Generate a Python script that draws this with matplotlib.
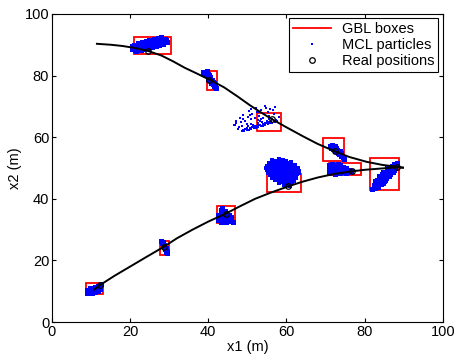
import matplotlib
matplotlib.use("Agg")
import matplotlib.pyplot as plt
import numpy as np
from matplotlib.patches import Rectangle
from matplotlib.lines import Line2D

plt.rcParams['font.family'] = ['Liberation Sans', 'DejaVu Sans']
plt.rcParams['font.size'] = 9.5

# true trajectories
upper_x = [11.5, 15, 18, 21, 24.5, 28, 31, 34, 37, 40.4, 44, 47.5, 50.6, 53.5, 56.2, 60, 64.2, 68, 72.4, 76, 80.5, 84.5, 88.2, 89.8]
upper_y = [90.3, 90.0, 89.6, 89.0, 88.0, 86.5, 84.6, 82.5, 80.7, 78.6, 76.2, 73.2, 70.4, 68.0, 65.9, 63.2, 60.3, 57.8, 55.4, 53.6, 52.0, 51.0, 50.4, 50.1]
lower_x = [10.8, 12.3, 16, 20, 24, 28.6, 32, 36, 40, 44.5, 48, 52, 56, 60.4, 64, 68, 72, 76.7, 80, 84, 88.2, 89.8]
lower_y = [10.5, 12.0, 15.0, 18.0, 21.0, 24.4, 27.2, 30.0, 32.6, 35.2, 37.5, 40.0, 42.0, 44.0, 45.5, 46.9, 48.0, 48.9, 49.4, 49.8, 50.2, 50.1]

# real positions (circles)
real_x = [24.5, 40.3, 56.4, 72.4, 88.2, 12.3, 28.6, 44.5, 60.5, 76.7]
real_y = [88.0, 78.6, 66.0, 55.4, 50.4, 12.0, 24.4, 35.2, 44.0, 48.9]

# GBL boxes: x0, x1, y0, y1
box_x0 = [21.0, 39.6, 52.4, 69.3, 81.3, 8.7, 27.6, 42.2, 55.1, 70.8]
box_x1 = [30.4, 42.2, 58.6, 74.7, 88.7, 13.0, 29.9, 46.8, 63.7, 79.0]
box_y0 = [87.0, 75.2, 61.9, 52.1, 42.7, 9.1, 21.8, 32.2, 42.3, 47.6]
box_y1 = [92.5, 81.4, 67.8, 59.6, 53.1, 12.7, 26.4, 37.5, 48.2, 51.5]

# MCL particle clouds
cloud1 = [(20.6, 88.7), (21.2, 88.3), (21.4, 89.3), (22.0, 88.6), (22.1, 89.8), (22.6, 89.2), (22.9, 88.4),
          (23.1, 90.3), (23.4, 89.6), (23.8, 88.9), (24.0, 90.7), (24.3, 90.0), (24.6, 89.2), (24.9, 91.0),
          (25.2, 90.4), (25.5, 89.6), (25.8, 91.3), (26.1, 90.7), (26.4, 89.9), (26.7, 91.5), (27.0, 90.9),
          (27.3, 90.2), (27.6, 91.6), (27.9, 91.0), (28.2, 90.5), (28.5, 91.7), (28.8, 91.2), (29.2, 91.5),
          (23.5, 88.7), (25.0, 89.3), (26.5, 90.4), (21.8, 89.0), (24.6, 90.6), (27.4, 91.3), (22.5, 90.0),
          (28.0, 91.9), (20.9, 89.2), (23.0, 89.0), (25.9, 90.0), (29.0, 91.9), (23.6, 91.0), (22.4, 90.5),
          (26.0, 92.0), (27.2, 92.1), (24.8, 91.6),
          (22.0, 90.4), (23.0, 90.8), (24.0, 91.1), (25.0, 91.4), (26.0, 91.7), (27.0, 92.0), (28.0, 92.4),
          (21.5, 88.0), (22.5, 88.3), (23.5, 88.6), (24.5, 88.9), (25.5, 89.2), (26.5, 89.6), (27.5, 89.9),
          (28.5, 90.2), (29.4, 91.0), (20.4, 89.6), (21.0, 90.0)]
cloud2 = [(38.7, 81.3), (39.0, 81.0), (39.3, 81.2), (39.2, 80.4), (39.6, 80.1), (39.9, 80.5), (39.8, 79.5),
          (40.2, 79.2), (40.5, 79.6), (40.3, 78.6), (40.7, 78.3), (41.0, 78.6), (40.8, 77.6), (41.2, 77.3),
          (41.5, 77.6), (41.4, 76.6), (41.8, 76.2), (42.0, 75.8), (39.5, 80.8), (40.0, 78.9), (41.1, 77.9),
          (41.6, 76.9), (38.9, 80.6), (39.6, 81.4), (40.1, 80.2)]
cloud3 = [(48.5, 61.9), (49.2, 62.0), (49.8, 62.3), (50.4, 62.4), (51.0, 62.6), (51.6, 62.9), (52.2, 63.0),
          (52.8, 63.3), (53.4, 63.5), (54.0, 63.7), (54.6, 64.0), (55.2, 64.2), (55.8, 64.5), (56.4, 64.7),
          (57.0, 64.9), (57.6, 65.1), (49.5, 62.8), (50.6, 63.1), (51.7, 63.5), (52.8, 63.9), (53.9, 64.3),
          (55.0, 64.7), (56.1, 65.2), (57.2, 65.6), (50.2, 63.6), (51.4, 64.0), (52.6, 64.5), (53.8, 64.9),
          (55.0, 65.3), (56.2, 65.8), (49.0, 62.4), (50.0, 62.9), (51.1, 63.3), (52.2, 63.7), (53.3, 64.1),
          (54.4, 64.5), (55.5, 64.9), (56.7, 65.3), (51.0, 64.4), (53.2, 65.2), (55.6, 65.9),
          (46.5, 63.8), (47.2, 64.5), (47.8, 63.2), (47.0, 65.3), (48.4, 64.8), (48.9, 66.0), (49.5, 65.1),
          (50.1, 66.7), (49.0, 67.2), (50.8, 65.8), (51.3, 67.5), (51.9, 66.3), (52.4, 68.1), (50.3, 68.5),
          (53.0, 67.0), (53.6, 68.8), (52.2, 69.4), (54.2, 67.4), (54.8, 69.6), (55.3, 68.3), (53.4, 66.0),
          (55.9, 69.2), (56.5, 68.7), (57.0, 69.9), (55.5, 66.9), (54.6, 70.1), (56.8, 67.6), (51.0, 69.0),
          (48.0, 66.2), (49.8, 64.2), (52.7, 65.7), (58.2, 66.4), (47.5, 62.6), (48.6, 63.5), (46.9, 64.0),
          (50.7, 67.3), (52.9, 68.3), (54.0, 66.2)]
cloud4 = [(71.2, 57.2), (71.6, 57.5), (71.5, 56.6), (72.0, 56.9), (72.3, 57.2), (71.9, 56.1), (72.4, 56.4),
          (72.8, 56.6), (72.4, 55.6), (72.9, 55.8), (73.2, 55.3), (73.6, 55.4), (73.5, 54.6), (73.9, 54.8),
          (74.0, 54.0), (74.4, 53.6), (74.6, 53.0), (72.6, 56.0), (73.3, 54.9)]
cloud5 = [(71.0, 48.3), (71.0, 49.2), (71.0, 50.1), (71.0, 51.0), (71.7, 48.6), (71.7, 49.5), (71.7, 50.4),
          (71.7, 51.3), (72.4, 48.2), (72.4, 49.1), (72.4, 50.0), (72.4, 50.9), (73.1, 48.6), (73.1, 49.5),
          (73.1, 50.4), (73.1, 51.2), (73.8, 48.3), (73.8, 49.2), (73.8, 50.1), (73.8, 50.9), (74.5, 48.6),
          (74.5, 49.4), (74.5, 50.3), (75.2, 48.5), (75.2, 49.3), (75.2, 50.1), (75.9, 48.7), (75.9, 49.5),
          (76.5, 49.0)]
cloud6 = [(81.9, 43.2), (82.3, 43.9), (82.7, 43.6), (82.5, 44.6), (83.0, 44.3), (83.3, 43.9), (82.8, 45.3),
          (83.3, 45.0), (83.8, 44.7), (83.2, 46.0), (83.7, 45.7), (84.2, 45.4), (84.6, 45.1), (83.6, 46.7),
          (84.1, 46.4), (84.6, 46.1), (85.0, 45.9), (84.0, 47.4), (84.5, 47.2), (85.0, 46.9), (85.5, 46.6),
          (84.5, 48.1), (85.0, 47.9), (85.5, 47.6), (86.0, 47.3), (85.0, 48.8), (85.5, 48.6), (86.0, 48.3),
          (86.5, 48.0), (85.6, 49.5), (86.1, 49.2), (86.6, 49.0), (87.0, 48.7), (86.2, 50.1), (86.7, 49.9),
          (87.2, 49.6), (87.6, 49.4), (86.9, 50.7), (87.4, 50.4), (87.8, 50.1), (87.5, 51.2), (88.0, 50.9),
          (88.2, 51.6), (84.8, 46.8), (85.8, 48.0), (86.8, 49.4),
          (82.7, 45.9), (83.7, 47.3), (84.7, 48.6), (85.7, 50.0), (84.3, 44.7), (85.3, 46.1), (86.3, 47.4),
          (87.3, 48.8)]
cloud7 = [(56.4, 52.6), (57.4, 52.4), (58.0, 52.8), (59.0, 52.5), (59.8, 52.2),
          (55.5, 51.6), (56.5, 51.9), (57.1, 51.5), (58.1, 51.8), (58.7, 51.4), (59.7, 51.7), (60.3, 51.5), (61.1, 51.9),
          (55.0, 50.8), (56.0, 51.1), (56.6, 50.7), (57.6, 51.0), (58.2, 50.7), (59.2, 51.1), (59.8, 50.8),
          (60.8, 51.0), (61.4, 50.6), (62.3, 50.9),
          (54.8, 50.0), (55.8, 50.3), (56.4, 49.9), (57.4, 50.2), (58.2, 49.8), (58.8, 50.3), (59.8, 50.0),
          (60.4, 50.3), (61.4, 49.9), (62.0, 50.2), (62.9, 49.9),
          (55.1, 49.2), (55.7, 49.5), (56.7, 49.1), (57.3, 49.4), (58.3, 49.2), (58.9, 49.5), (59.9, 49.1),
          (60.5, 49.4), (61.5, 49.2), (62.1, 49.5), (63.1, 49.1),
          (55.3, 48.4), (55.9, 48.7), (56.9, 48.3), (57.5, 48.6), (58.5, 48.4), (59.1, 48.7), (60.1, 48.3),
          (60.7, 48.6), (61.7, 48.4), (62.3, 48.7), (63.3, 48.3),
          (55.7, 47.6), (56.3, 47.9), (57.3, 47.5), (57.9, 47.8), (58.9, 47.6), (59.5, 47.9), (60.5, 47.5),
          (61.1, 47.8), (62.1, 47.6), (62.7, 47.9),
          (56.3, 46.8), (56.9, 47.1), (57.9, 46.7), (58.5, 47.0), (59.5, 46.8), (60.1, 47.1), (61.1, 46.7),
          (61.7, 47.0), (62.5, 46.8),
          (57.1, 46.0), (57.7, 46.3), (58.7, 45.9), (59.3, 46.2), (60.3, 46.0), (60.9, 46.3), (61.9, 45.9),
          (58.1, 45.2), (58.7, 45.5), (59.7, 45.1), (60.3, 45.4), (61.3, 45.2),
          (59.3, 44.4), (59.9, 44.7), (60.9, 44.3)]
cloud8 = [(42.5, 33.0), (42.5, 33.9), (42.5, 34.8), (43.2, 32.6), (43.2, 33.5), (43.2, 34.4), (43.2, 35.3),
          (43.2, 36.3), (43.9, 32.8), (43.9, 33.7), (43.9, 34.6), (43.9, 35.5), (43.6, 37.0), (44.6, 32.6),
          (44.6, 33.5), (44.6, 34.4), (44.6, 35.3), (45.3, 32.8), (45.3, 33.7), (45.3, 34.6), (45.9, 33.1),
          (45.9, 34.0), (46.2, 32.6), (43.5, 36.4), (44.2, 36.0)]
cloud9 = [(27.9, 26.3), (28.1, 25.8), (28.3, 25.3), (28.5, 24.8), (28.7, 24.3), (28.9, 23.8), (29.1, 23.3),
          (29.3, 22.8), (29.5, 22.3), (28.3, 25.9), (28.7, 24.9), (29.1, 23.9), (29.4, 23.0)]
cloud10 = [(8.9, 9.4), (8.9, 10.3), (9.6, 9.3), (9.6, 10.2), (9.6, 11.0), (10.3, 9.4), (10.3, 10.3),
           (10.3, 11.2), (11.0, 9.6), (11.0, 10.5), (11.0, 11.4), (11.7, 10.0), (11.7, 10.9), (11.7, 11.8),
           (12.4, 10.6), (12.4, 11.5), (12.6, 12.2)]

clouds = [cloud1, cloud2, cloud3, cloud4, cloud5, cloud6, cloud7, cloud8, cloud9, cloud10]
cloud_msize = [3.6, 3.6, 1.9, 3.6, 3.6, 3.6, 2.3, 3.6, 3.6, 3.6]

fig = plt.figure(figsize=(4.56, 3.57), dpi=100)
ax = fig.add_axes([0.114, 0.098, 0.857, 0.863])

for x0, x1, y0, y1 in zip(box_x0, box_x1, box_y0, box_y1):
    ax.add_patch(Rectangle((x0, y0), x1 - x0, y1 - y0, fill=False,
                           edgecolor='red', linewidth=1.3, zorder=2))

for c, ms in zip(clouds, cloud_msize):
    pts = np.array(c)
    ax.plot(pts[:, 0], pts[:, 1], linestyle='none', marker='s',
            markersize=ms, color='blue', markeredgewidth=0, zorder=3)

ax.plot(upper_x, upper_y, color='black', linewidth=1.4, zorder=4)
ax.plot(lower_x, lower_y, color='black', linewidth=1.4, zorder=4)
ax.plot(real_x, real_y, linestyle='none', marker='o', markersize=4,
        markerfacecolor='none', markeredgecolor='black', markeredgewidth=0.9, zorder=5)

ax.set_xlim(0, 100)
ax.set_ylim(0, 100)
ax.set_xticks(np.arange(0, 101, 20))
ax.set_yticks(np.arange(0, 101, 20))
ax.tick_params(direction='in', top=True, right=True, length=3, labelsize=10.5, pad=2)
ax.set_xlabel('x1 (m)', fontsize=10.5, labelpad=1)
ax.set_ylabel('x2 (m)', fontsize=10.5, labelpad=2)

handles = [
    Line2D([], [], color='red', linewidth=1.3),
    Line2D([], [], linestyle='none', marker='s', markersize=1.5,
           color='blue', markeredgewidth=0),
    Line2D([], [], linestyle='none', marker='o', markersize=4,
           markerfacecolor='none', markeredgecolor='black', markeredgewidth=0.9),
]
leg = ax.legend(handles, ['GBL boxes', 'MCL particles', 'Real positions'],
                loc='upper right', fontsize=10.5, fancybox=False, edgecolor='black',
                framealpha=1, borderpad=0.25, labelspacing=0.15, handlelength=2.6,
                handletextpad=0.8, borderaxespad=0.3)
leg.get_frame().set_linewidth(0.8)

fig.savefig('out.png', dpi=100)
